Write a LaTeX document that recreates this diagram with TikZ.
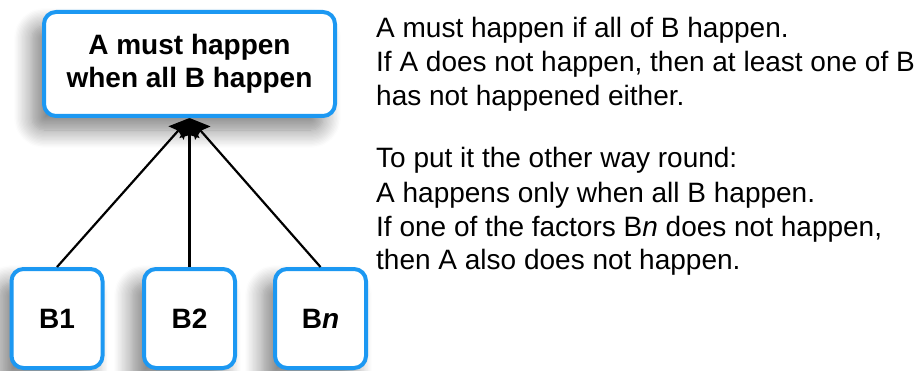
\documentclass[tikz,border=0pt]{standalone}
\usepackage{fontspec}
\setmainfont{Liberation Sans}
\usetikzlibrary{positioning, arrows.meta, shadows.blur}
\definecolor{boxblue}{RGB}{28,152,242}

\begin{document}
\begin{tikzpicture}[
        x=1pt, y=-1pt,
        >={Stealth[length=20pt, width=20pt, inset=3pt]},
        box/.style={rectangle, rounded corners=12pt, draw=boxblue, line width=4pt, fill=white, inner sep=0pt,
            align=center, font=\bfseries\fontsize{28}{33}\selectfont,
            blur shadow={shadow xshift=-12pt, shadow yshift=-14pt, shadow blur radius=18pt,
                shadow blur steps=14, shadow opacity=50}},
        factor/.style={box, minimum width=91pt, minimum height=99pt},
        note/.style={anchor=base west, inner sep=0pt, font=\fontsize{28}{34}\selectfont},
    ]

    \useasboundingbox (0,0) rectangle (917,371);

    % Draw the goal node
    \node[box, minimum width=291pt, minimum height=104pt] (A) at (189.5,64) {A must happen\\when all B happen};

    % Draw the factor nodes
    \foreach \name / \x / \lbl in {1/57/1, 2/189.5/2, n/320.5/\textit{n}}
        \node[factor] (B-\name) at (\x,318.5) {B\lbl};

    % Connect every factor node with the goal node
    \foreach \name in {1,2,n}
        \draw[->, line width=2.2pt] (B-\name.north) -- (A.south);

    % Write the explanation next to the diagram
    \foreach \txt / \y [count=\i] in {
            {A must happen if all of B happen.}/37.7,
            {If A does not happen, then at least one of B}/71.7,
            {has not happened either.}/105.7,
            {To put it the other way round:}/168,
            {A happens only when all B happen.}/202.5,
            {If one of the factors B\textit{n} does not happen,}/236.5,
            {then A also does not happen.}/269.5}
        \node[note] (note-\i) at (376,\y) {\txt};
\end{tikzpicture}
\end{document}
